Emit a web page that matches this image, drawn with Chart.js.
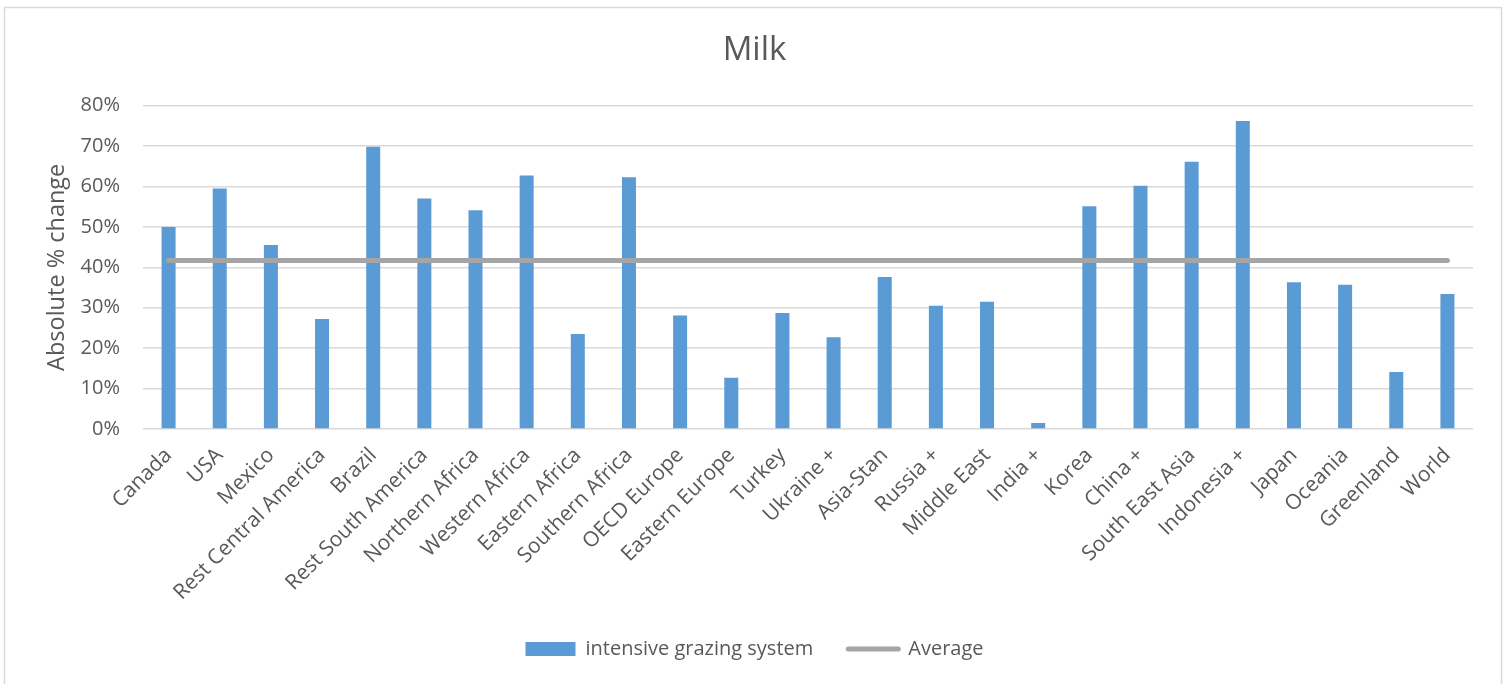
<!DOCTYPE html>
<html>
<head>
<meta charset="utf-8">
<title>Milk</title>
<script src="https://cdn.jsdelivr.net/npm/chart.js@4.4.1/dist/chart.umd.min.js"></script>
<style>
  html, body { margin: 0; padding: 0; background: #ffffff; }
  #wrap { position: relative; width: 1509px; height: 684px; }
  canvas { display: block; }
</style>
</head>
<body>
<div id="wrap"><canvas id="milk" width="1509" height="684"></canvas></div>
<script>
// Regions shown along the category axis
const regions = [
  'Canada', 'USA', 'Mexico', 'Rest Central America', 'Brazil',
  'Rest South America', 'Northern Africa', 'Western Africa', 'Eastern Africa',
  'Southern Africa', 'OECD Europe', 'Eastern Europe', 'Turkey', 'Ukraine +',
  'Asia-Stan', 'Russia +', 'Middle East', 'India +', 'Korea', 'China +',
  'South East Asia', 'Indonesia +', 'Japan', 'Oceania', 'Greenland', 'World'
];

// Absolute % change under the intensive grazing system
const intensiveGrazing = [
  50.0, 59.5, 45.5, 27.2, 69.8,
  57.0, 54.1, 62.7, 23.5,
  62.3, 28.1, 12.7, 28.7, 22.7,
  37.6, 30.5, 31.5, 1.5, 55.1, 60.2,
  66.1, 76.2, 36.3, 35.7, 14.1, 33.4
];

// Average across regions, one point per category
const averageLine = [
  41.7, 41.7, 41.7, 41.7, 41.7,
  41.7, 41.7, 41.7, 41.7,
  41.7, 41.7, 41.7, 41.7, 41.7,
  41.7, 41.7, 41.7, 41.7, 41.7, 41.7,
  41.7, 41.7, 41.7, 41.7, 41.7, 41.7
];

// Value axis ticks
const yTicks = [0, 10, 20, 30, 40, 50, 60, 70, 80];

const TEXT = '#595959';
const FONT = "'Open Sans', 'Liberation Sans', sans-serif";

// Thin frame around the whole chart
const frame = {
  id: 'frame',
  beforeDraw(chart) {
    const c = chart.ctx;
    c.save();
    c.fillStyle = '#ffffff';
    c.fillRect(0, 0, chart.width, chart.height);
    c.strokeStyle = '#d9d9d9';
    c.lineWidth = 1.5;
    c.strokeRect(4.5, 7.5, 1497, 700);
    c.restore();
  }
};

new Chart(document.getElementById('milk'), {
  data: {
    labels: regions,
    datasets: [
      {
        type: 'bar',
        label: 'intensive grazing system',
        data: intensiveGrazing,
        backgroundColor: '#5b9bd5',
        borderWidth: 0,
        categoryPercentage: 1.0,
        barPercentage: 0.274,
        order: 2
      },
      {
        type: 'line',
        label: 'Average',
        data: averageLine,
        borderColor: '#a5a5a5',
        backgroundColor: '#a5a5a5',
        borderWidth: 5,
        borderCapStyle: 'round',
        pointRadius: 0,
        pointHoverRadius: 0,
        tension: 0,
        fill: false,
        order: 1
      }
    ]
  },
  options: {
    responsive: false,
    animation: false,
    devicePixelRatio: 1,
    layout: { padding: { left: 0, right: 0, top: 0, bottom: 15 } },
    plugins: {
      title: {
        display: true,
        text: 'Milk',
        color: TEXT,
        font: { family: FONT, size: 33, weight: 'normal' },
        padding: { top: 31, bottom: 35 }
      },
      legend: {
        display: true,
        position: 'bottom',
        labels: {
          color: TEXT,
          font: { family: FONT, size: 20 },
          usePointStyle: true,
          pointStyleWidth: 50,
          boxHeight: 14,
          padding: 35,
          sort: (a, b) => a.datasetIndex - b.datasetIndex,
          generateLabels(chart) {
            const items = Chart.defaults.plugins.legend.labels.generateLabels(chart);
            items.forEach((it) => {
              if (it.datasetIndex === 0) {
                it.pointStyle = 'rect';
                it.lineWidth = 0;
                it.fillStyle = '#5b9bd5';
                it.strokeStyle = '#5b9bd5';
              } else {
                it.pointStyle = 'line';
                it.lineWidth = 5;
                it.strokeStyle = '#a5a5a5';
                it.lineCap = 'round';
              }
            });
            return items;
          }
        }
      },
      tooltip: { enabled: false }
    },
    scales: {
      x: {
        offset: true,
        grid: { display: false, drawTicks: false },
        border: { display: false },
        ticks: {
          color: TEXT,
          font: { family: FONT, size: 21 },
          minRotation: 45,
          maxRotation: 45,
          autoSkip: false,
          padding: 14
        },
        afterFit(scale) { scale.height = 175; }
      },
      y: {
        min: 0,
        max: 80,
        afterBuildTicks(scale) { scale.ticks = yTicks.map(v => ({ value: v })); },
        grid: { color: '#d9d9d9', lineWidth: 1.5, drawTicks: false },
        border: { display: false },
        ticks: {
          color: TEXT,
          font: { family: FONT, size: 20 },
          padding: 23,
          callback: (v) => v + '%'
        },
        title: {
          display: true,
          text: 'Absolute % change',
          color: TEXT,
          font: { family: FONT, size: 23.5 },
          padding: { top: 43, bottom: 0 }
        },
        afterFit(scale) { scale.width = 143; }
      },
      // empty right-hand gutter so the plot ends short of the frame
      gutter: {
        type: 'linear',
        position: 'right',
        display: true,
        grid: { display: false, drawTicks: false },
        border: { display: false },
        ticks: { display: false },
        afterFit(scale) { scale.width = 36; }
      }
    }
  },
  plugins: [frame]
});
</script>
</body>
</html>
